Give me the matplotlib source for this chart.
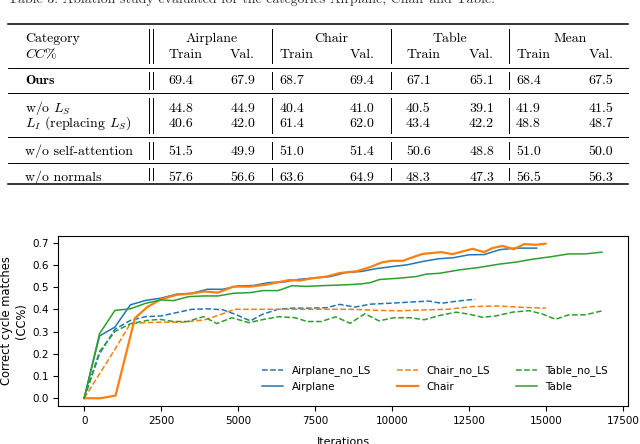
import matplotlib
matplotlib.use("Agg")
import matplotlib.pyplot as plt

plt.rcParams['mathtext.fontset'] = 'cm'

# Tabla de ablacion (parte superior)
categorias_tabla = ["Airplane", "Chair", "Table", "Mean"]
filas = ["Ours", "w/o $L_S$", "$L_I$ (replacing $L_S$)", "w/o self-attention", "w/o normals"]
valores = [
    [69.4, 67.9, 68.7, 69.4, 67.1, 65.1, 68.4, 67.5],
    [44.8, 44.9, 40.4, 41.0, 40.5, 39.1, 41.9, 41.5],
    [40.6, 42.0, 61.4, 62.0, 43.4, 42.2, 48.8, 48.7],
    [51.5, 49.9, 51.0, 51.4, 50.6, 48.8, 51.0, 50.0],
    [57.6, 56.6, 63.6, 64.9, 48.3, 47.3, 56.5, 56.3],
]
caption = "Table 3: Ablation study evaluated for the categories Airplane, Chair and Table."

# Curvas de entrenamiento (iteracion, CC)
airplane_no_ls_x = [0, 500, 1000, 1500, 2000, 2500, 3000, 3500, 4000, 4500, 4900, 5400, 5800,
                    6300, 6750, 7300, 7870, 8300, 8800, 9300, 9900, 10550, 11200, 11600, 12200, 12700]
airplane_no_ls_y = [0, 0.2, 0.31, 0.35, 0.367, 0.37, 0.385, 0.4, 0.402, 0.398, 0.378, 0.348, 0.378,
                    0.4, 0.405, 0.405, 0.407, 0.422, 0.41, 0.423, 0.427, 0.432, 0.437, 0.427, 0.438, 0.445]

airplane_x = [0, 500, 1000, 1500, 2000, 2500, 3000, 3500, 4000, 4500, 5000, 5500, 6000, 6500, 7000,
              7500, 8000, 8500, 9000, 9500, 10000, 10500, 11000, 11500, 12000, 12500, 13000, 13500,
              14000, 14700]
airplane_y = [0, 0.28, 0.32, 0.42, 0.44, 0.45, 0.468, 0.472, 0.49, 0.49, 0.505, 0.507, 0.52, 0.523,
              0.535, 0.541, 0.547, 0.565, 0.57, 0.583, 0.592, 0.6, 0.615, 0.627, 0.632, 0.645, 0.646,
              0.668, 0.675, 0.675]

chair_no_ls_x = [0, 500, 1000, 1500, 2000, 2500, 3200, 3900, 4400, 4900, 5900, 6800, 7800, 8700,
                 9600, 10200, 11000, 11800, 12600, 13400, 14200, 15000]
chair_no_ls_y = [0, 0.11, 0.22, 0.335, 0.34, 0.342, 0.342, 0.352, 0.375, 0.4, 0.4, 0.4, 0.4, 0.4,
                 0.395, 0.393, 0.397, 0.4, 0.412, 0.415, 0.409, 0.405]

chair_x = [0, 530, 1020, 1650, 2050, 2500, 3000, 3450, 3900, 4350, 4850, 5400, 5870, 6250, 6680,
           7000, 7440, 7870, 8300, 8850, 9300, 9650, 9975, 10350, 10670, 11000, 11590, 11970,
           12290, 12615, 12990, 13260, 13590, 13960, 14290, 14670, 14990]
chair_y = [0, 0, 0.012, 0.36, 0.41, 0.445, 0.465, 0.47, 0.48, 0.475, 0.502, 0.502, 0.51, 0.52,
           0.532, 0.529, 0.54, 0.547, 0.563, 0.571, 0.59, 0.61, 0.618, 0.618, 0.634, 0.649, 0.657,
           0.648, 0.66, 0.672, 0.657, 0.675, 0.685, 0.67, 0.693, 0.69, 0.695]

table_no_ls_x = [0, 500, 1000, 1500, 2000, 2450, 2900, 3350, 3880, 4310, 4800, 5350, 5850, 6330,
                 6850, 7250, 7700, 8170, 8640, 9120, 9580, 10050, 10600, 11050, 11540, 12080,
                 12510, 12940, 13370, 13910, 14450, 14880, 15310, 15740, 16280, 16820]
table_no_ls_y = [0, 0.21, 0.3, 0.335, 0.349, 0.355, 0.345, 0.345, 0.367, 0.336, 0.362, 0.34,
                 0.355, 0.367, 0.362, 0.345, 0.345, 0.366, 0.337, 0.38, 0.348, 0.362, 0.362,
                 0.353, 0.372, 0.387, 0.378, 0.364, 0.37, 0.387, 0.394, 0.379, 0.355, 0.375,
                 0.375, 0.393]

table_x = [0, 500, 1000, 1500, 2000, 2500, 2900, 3400, 3900, 4350, 4850, 5400, 5800, 6300, 6750,
           7220, 7870, 8500, 9000, 9300, 9600, 10250, 10780, 11110, 11550, 12180, 12830, 13480,
           14020, 14560, 15200, 15740, 16280, 16820]
table_y = [0, 0.29, 0.395, 0.402, 0.427, 0.442, 0.439, 0.457, 0.46, 0.46, 0.472, 0.475, 0.484,
           0.484, 0.506, 0.503, 0.507, 0.51, 0.514, 0.52, 0.534, 0.54, 0.547, 0.558, 0.562, 0.577,
           0.588, 0.603, 0.612, 0.625, 0.637, 0.649, 0.649, 0.657]

fig = plt.figure(figsize=(6.4, 4.44), dpi=100)

# ---- tabla dibujada en coordenadas de pixel ----
tab = fig.add_axes([0, 0, 1, 1])
tab.set_xlim(0, 640)
tab.set_ylim(444, 0)
tab.axis("off")

fuente = dict(fontfamily="cmr10", fontsize=10, color="black", va="baseline")

# pie de la tabla anterior, cortado por el borde superior
tab.text(8, 2.5, caption, fontfamily="cmr10", fontsize=10, color="#333333", va="baseline")

reglas = [24.3, 67.7, 93.3, 137.3, 163.3, 184.3]
for i, yr in enumerate(reglas):
    grosor = 1.1 if i in (0, len(reglas) - 1) else 0.7
    tab.plot([8, 628], [yr, yr], color="black", lw=grosor)

bloques = [(24.3, 67.7), (67.7, 93.3), (93.3, 137.3), (137.3, 163.3), (163.3, 184.3)]
for y0, y1 in bloques:
    for xv in [149.3, 152.7, 271.7, 390.7, 509.3]:
        tab.plot([xv, xv], [y0 + 4.5, y1 - 4.5], color="black", lw=0.7)

x_train = [168.3, 279.3, 406, 516]
x_val = [255, 374.5, 494, 613.3]
x_centro = [212, 331, 450, 570]

tab.text(25, 42, "Category", **fuente)
tab.text(25, 58, r"$CC\%$", **fuente)
for k, cat in enumerate(categorias_tabla):
    tab.text(x_centro[k], 42, cat, ha="center", **fuente)
    tab.text(x_train[k], 58, "Train", ha="left", **fuente)
    tab.text(x_val[k], 58, "Val.", ha="right", **fuente)

y_filas = [84.5, 111.8, 126.8, 154.5, 181.2]
for r, nombre in enumerate(filas):
    if r == 0:
        tab.text(25, y_filas[r], nombre, fontfamily="cmb10", fontsize=10, va="baseline")
    else:
        tab.text(25, y_filas[r], nombre, **fuente)
    for k in range(4):
        tab.text(x_train[k], y_filas[r], f"{valores[r][2 * k]:.1f}", ha="left", **fuente)
        tab.text(x_val[k], y_filas[r], f"{valores[r][2 * k + 1]:.1f}", ha="right", **fuente)

# ---- grafica de curvas ----
ax = fig.add_axes([0.091, 0.0856, 0.890, 0.383])
ax.plot(airplane_no_ls_x, airplane_no_ls_y, "--", color="#1f77b4", lw=1.1, label="Airplane_no_LS")
ax.plot(airplane_x, airplane_y, "-", color="#1f77b4", lw=1.1, label="Airplane")
ax.plot(chair_no_ls_x, chair_no_ls_y, "--", color="#ff7f0e", lw=1.1, label="Chair_no_LS")
ax.plot(chair_x, chair_y, "-", color="#ff7f0e", lw=1.6, label="Chair")
ax.plot(table_no_ls_x, table_no_ls_y, "--", color="#2ca02c", lw=1.1, label="Table_no_LS")
ax.plot(table_x, table_y, "-", color="#2ca02c", lw=1.1, label="Table")

ax.set_xticks([0, 2500, 5000, 7500, 10000, 12500, 15000, 17500])
ax.set_yticks([0.0, 0.1, 0.2, 0.3, 0.4, 0.5, 0.6, 0.7])
ax.tick_params(labelsize=7.5)
ax.set_xlabel("Iterations", fontsize=8, labelpad=8)
ax.set_ylabel("Correct cycle matches\n(CC%)", fontsize=8.3, labelpad=3)
ax.legend(ncol=3, frameon=False, fontsize=7.5, loc="lower right",
          bbox_to_anchor=(0.972, 0.06), borderaxespad=0, columnspacing=2.5)

fig.savefig("out.png", dpi=100)
